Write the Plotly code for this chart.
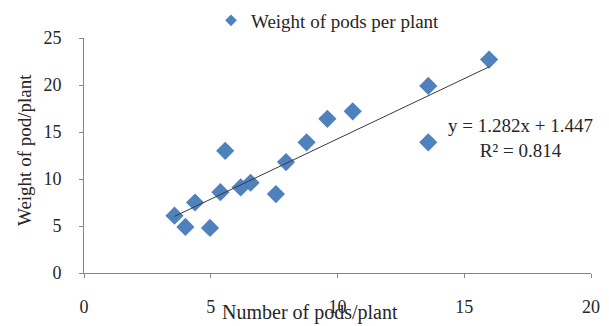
import plotly.graph_objects as go

pods = [3.57, 4.0, 4.38, 4.97, 5.38, 5.57, 6.18, 6.57, 7.57, 7.97, 8.78, 9.6, 10.6, 13.58, 13.58, 15.98]
weight = [6.1, 4.9, 7.5, 4.8, 8.6, 13.0, 9.1, 9.6, 8.4, 11.8, 13.9, 16.4, 17.2, 19.9, 13.9, 22.7]
slope = 1.282
intercept = 1.447
r2 = 0.814
series_name = "Weight of pods per plant"
x_title = "Number of pods/plant"
y_title = "Weight of pod/plant"

FONT = "Liberation Serif, Times New Roman, serif"
TXT = "#262626"
BLUE = "#4F81BD"

# plot area in pixels
L, R, T, B = 84, 591, 38, 273
W, H = R - L, B - T

def px(x):
    return (x - L) / W

def py(y):
    return (B - y) / H

xmin, xmax = min(pods), max(pods)
fig = go.Figure()
fig.add_trace(go.Scatter(
    x=pods, y=weight, mode="markers", showlegend=False,
    marker=dict(symbol="diamond", size=14, color=BLUE, line=dict(width=0)),
))
fig.add_trace(go.Scatter(
    x=[xmin, xmax], y=[slope * xmin + intercept, slope * xmax + intercept],
    mode="lines", showlegend=False, line=dict(color="#3a3a3a", width=1),
))
fig.add_trace(go.Scatter(
    x=[None], y=[None], mode="markers", name=series_name,
    marker=dict(symbol="diamond", size=9, color=BLUE),
))

axis_common = dict(
    showgrid=False, zeroline=False, showline=True, linecolor="#868686", linewidth=1,
    ticks="outside", ticklen=4, tickcolor="#868686", automargin=False,
    tickfont=dict(family=FONT, size=18, color=TXT),
)
fig.update_xaxes(range=[0, 20], tickvals=[0, 5, 10, 15, 20], ticklabelstandoff=13, **axis_common)
fig.update_yaxes(range=[0, 25], tickvals=[0, 5, 10, 15, 20, 25], ticklabelstandoff=14, **axis_common)

fig.add_annotation(text=x_title, xref="paper", yref="paper", x=px(310), y=py(312),
                   showarrow=False, xanchor="center", yanchor="middle",
                   font=dict(family=FONT, size=20, color=TXT))
fig.add_annotation(text=y_title, xref="paper", yref="paper", x=px(24), y=py(150),
                   showarrow=False, xanchor="center", yanchor="middle", textangle=-90,
                   font=dict(family=FONT, size=19, color=TXT))
fig.add_annotation(text=f"y = {slope}x + {intercept}<br>R² = {r2}", xref="paper", yref="paper",
                   x=px(520), y=py(137.5),
                   showarrow=False, xanchor="center", yanchor="middle", align="center",
                   font=dict(family=FONT, size=19, color=TXT))

fig.update_layout(
    width=609, height=326,
    margin=dict(l=L, r=609 - R, t=T, b=326 - B, autoexpand=False),
    paper_bgcolor="white", plot_bgcolor="white",
    showlegend=True,
    legend=dict(orientation="h", x=px(211), xanchor="left", y=py(20.5), yanchor="middle",
                font=dict(family=FONT, size=19, color=TXT), bgcolor="rgba(0,0,0,0)"),
)
fig.write_html("out.html")
